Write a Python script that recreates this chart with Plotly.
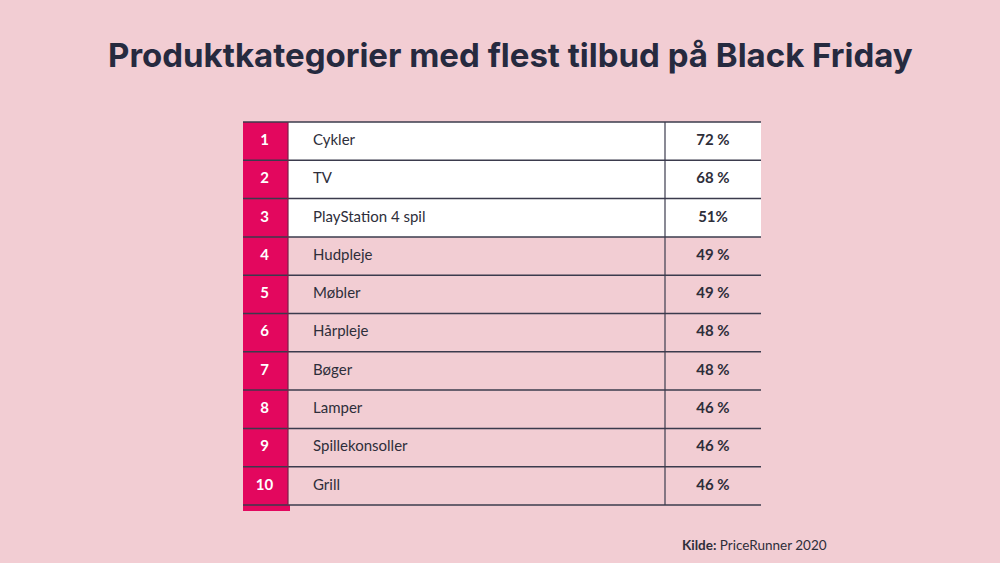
import plotly.graph_objects as go

ranks = [1, 2, 3, 4, 5, 6, 7, 8, 9, 10]
categories = ["Cykler", "TV", "PlayStation 4 spil", "Hudpleje", "Møbler",
              "Hårpleje", "Bøger", "Lamper", "Spillekonsoller", "Grill"]
values = ["72 %", "68 %", "51%", "49 %", "49 %", "48 %", "48 %", "46 %", "46 %", "46 %"]
title = "Produktkategorier med flest tilbud på Black Friday"
source_bold = "Kilde:"
source_text = "PriceRunner 2020"

BG = "#F2CDD3"
MAGENTA = "#E3075E"
LINE = "#3B3B4D"
TEXT = "#2E2E3A"
N = len(ranks)

# column boundaries in pixel-like x units
X_LEFT, X_C1, X_C2, X_RIGHT = 243, 288, 665, 761

row_fill = ["white" if r <= 3 else BG for r in ranks]

fig = go.Figure()
# rank column (slightly longer last bar, as in the original)
rank_widths = [1] * (N - 1) + [1.15]
rank_offsets = [-0.5] * N
fig.add_trace(go.Bar(y=ranks, x=[X_C1 + 2 - X_LEFT] * N, base=X_LEFT, orientation="h",
                     marker=dict(color=MAGENTA, line=dict(width=0)), width=rank_widths,
                     offset=rank_offsets, hoverinfo="skip"))
# category column
fig.add_trace(go.Bar(y=ranks, x=[X_C2 - X_C1] * N, base=X_C1, orientation="h",
                     marker=dict(color=row_fill, line=dict(width=0)), width=1,
                     hoverinfo="skip"))
# value column
fig.add_trace(go.Bar(y=ranks, x=[X_RIGHT - X_C2] * N, base=X_C2, orientation="h",
                     marker=dict(color=row_fill, line=dict(width=0)), width=1,
                     hoverinfo="skip"))

# horizontal grid lines
hx, hy = [], []
for r in ranks + [ranks[-1] + 1]:
    hx += [X_LEFT, X_RIGHT, None]
    hy += [r - 0.5, r - 0.5, None]
fig.add_trace(go.Scatter(x=hx, y=hy, mode="lines", line=dict(color=LINE, width=1.5),
                         hoverinfo="skip"))
# vertical lines
top, bottom = ranks[0] - 0.5, ranks[-1] + 0.5
fig.add_trace(go.Scatter(x=[X_C1, X_C1], y=[top, bottom], mode="lines",
                         line=dict(color="#7A2048", width=1.2), hoverinfo="skip"))
fig.add_trace(go.Scatter(x=[X_C2, X_C2], y=[top, bottom], mode="lines",
                         line=dict(color=LINE, width=1.2), hoverinfo="skip"))

# texts
fig.add_trace(go.Scatter(x=[(X_LEFT + X_C1) / 2 - 1] * N, y=ranks, mode="text",
                         text=[str(r) for r in ranks],
                         textfont=dict(family="Lato", size=15, color="white", weight="bold"),
                         hoverinfo="skip"))
fig.add_trace(go.Scatter(x=[X_C1 + 25] * N, y=ranks, mode="text", text=categories,
                         textposition="middle right",
                         textfont=dict(family="Lato", size=15, color=TEXT),
                         hoverinfo="skip"))
fig.add_trace(go.Scatter(x=[(X_C2 + X_RIGHT) / 2] * N, y=ranks, mode="text", text=values,
                         textfont=dict(family="Lato", size=15, color=TEXT, weight="bold"),
                         hoverinfo="skip"))

row_h = (505 - 122) / N
y_top = 0.5 - 122 / row_h
y_bot = 0.5 + (563 - 122) / row_h

fig.update_layout(
    width=1000, height=563,
    margin=dict(l=0, r=0, t=0, b=0),
    paper_bgcolor=BG, plot_bgcolor=BG,
    showlegend=False, barmode="overlay", bargap=0,
    xaxis=dict(range=[0, 1000], visible=False, fixedrange=True),
    yaxis=dict(range=[y_bot, y_top], visible=False, fixedrange=True),
    annotations=[
        dict(text=f"<b>{title}</b>", x=0.51, y=1 - 55 / 563, xref="paper", yref="paper",
             xanchor="center", yanchor="middle", showarrow=False,
             font=dict(family="Inter", size=33, color="#262A3F")),
        dict(text=f"<b>{source_bold}</b> {source_text}", x=680 / 1000, y=1 - 545 / 563,
             xref="paper", yref="paper", xanchor="left", yanchor="middle", showarrow=False,
             font=dict(family="Lato", size=13.5, color=TEXT)),
    ],
)

fig.write_html("out.html", config={"displayModeBar": False},
               post_script="document.body.style.margin='0';document.body.style.background='" + BG + "';")
